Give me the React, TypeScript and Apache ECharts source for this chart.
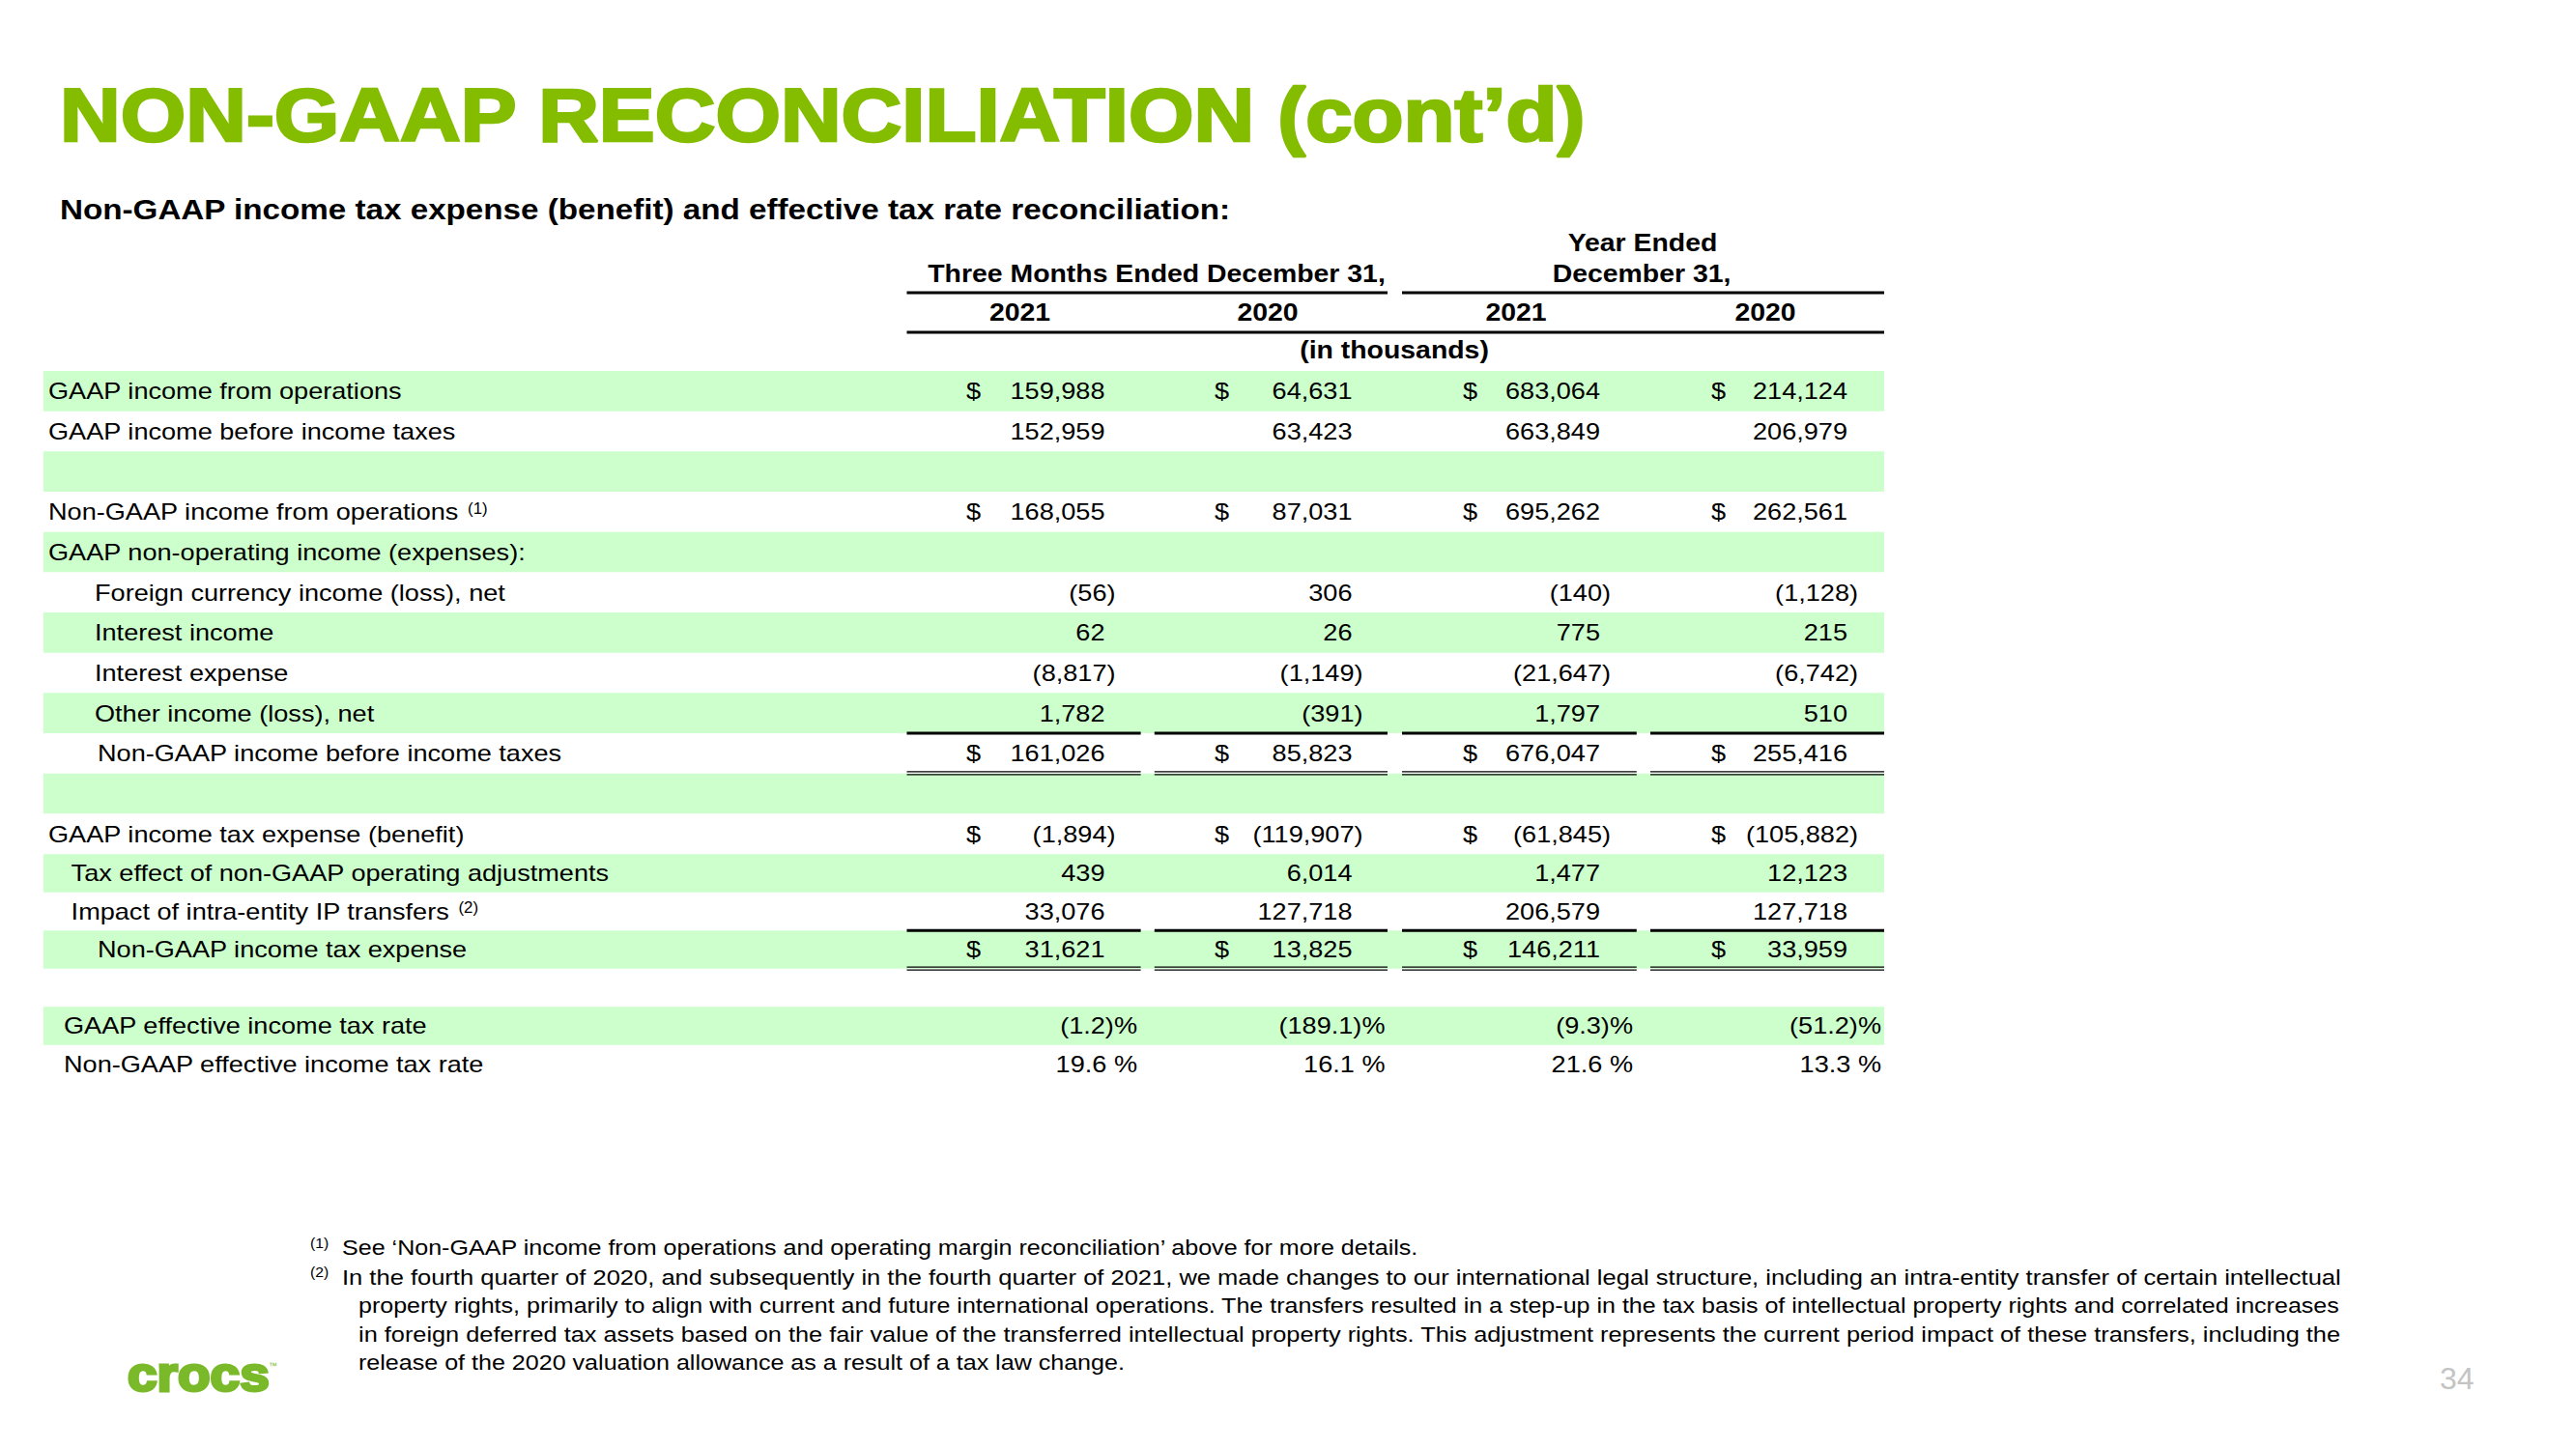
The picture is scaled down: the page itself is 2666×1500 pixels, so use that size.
import React, { useEffect, useRef } from "react";
import * as echarts from "echarts";

// ---------------- data ----------------
const TITLE = "NON-GAAP RECONCILIATION (cont’d)";
const SUBTITLE = "Non-GAAP income tax expense (benefit) and effective tax rate reconciliation:";
const QUARTER_HEADER = "Three Months Ended December 31,";
const YEAR_HEADER = ["Year Ended", "December 31,"];
const COLUMN_YEARS = ["2021", "2020", "2021", "2020"];
const UNIT_LABEL = "(in thousands)";

const ROW_LABELS = [
  "GAAP income from operations",
  "GAAP income before income taxes",
  "",
  "Non-GAAP income from operations",
  "GAAP non-operating income (expenses):",
  "Foreign currency income (loss), net",
  "Interest income",
  "Interest expense",
  "Other income (loss), net",
  "Non-GAAP income before income taxes",
  "",
  "GAAP income tax expense (benefit)",
  "Tax effect of non-GAAP operating adjustments",
  "Impact of intra-entity IP transfers",
  "Non-GAAP income tax expense",
  "",
  "GAAP effective income tax rate",
  "Non-GAAP effective income tax rate",
];
const ROW_NOTES = ["", "", "", "(1)", "", "", "", "", "", "", "", "", "", "(2)", "", "", "", ""];

const Q4_2021 = [159988, 152959, null, 168055, null, -56, 62, -8817, 1782, 161026, null, -1894, 439, 33076, 31621];
const Q4_2020 = [64631, 63423, null, 87031, null, 306, 26, -1149, -391, 85823, null, -119907, 6014, 127718, 13825];
const FY_2021 = [683064, 663849, null, 695262, null, -140, 775, -21647, 1797, 676047, null, -61845, 1477, 206579, 146211];
const FY_2020 = [214124, 206979, null, 262561, null, -1128, 215, -6742, 510, 255416, null, -105882, 12123, 127718, 33959];
const GAAP_RATE = [-1.2, -189.1, -9.3, -51.2];
const NON_GAAP_RATE = [19.6, 16.1, 21.6, 13.3];
const DOLLAR_ROWS = [0, 3, 9, 11, 14];
const SUBTOTAL_ROWS = [9, 14];

const FOOTNOTE_MARKS = ["(1)", "(2)"];
const FOOTNOTE_LINES = [
  "See ‘Non-GAAP income from operations and operating margin reconciliation’ above for more details.",
  "In the fourth quarter of 2020, and subsequently in the fourth quarter of 2021, we made changes to our international legal structure, including an intra-entity transfer of certain intellectual",
  "property rights, primarily to align with current and future international operations. The transfers resulted in a step-up in the tax basis of intellectual property rights and correlated increases",
  "in foreign deferred tax assets based on the fair value of the transferred intellectual property rights. This adjustment represents the current period impact of these transfers, including the",
  "release of the 2020 valuation allowance as a result of a tax law change.",
];
const LOGO_TEXT = "crocs";
const PAGE_NUMBER = "34";

// ---------------- layout / style ----------------
const W = 2666;
const H = 1500;
const FONT = '"Liberation Sans", Arial, sans-serif';
const GREEN = "#84BD00";
const LOGO_GREEN = "#7AB929";
const BAND = "#CCFFCC";
const SX = 1.13;
const BODY = 24;

const BAND_X0 = 45;
const BAND_X1 = 1950;
const COL_SEG = [
  [938.5, 1180.6],
  [1194.8, 1436],
  [1451, 1693.8],
  [1708, 1950],
];
const NUM_RIGHT = [1143.5, 1399.5, 1656, 1912];
const DOLLAR_X = [1000, 1257, 1514, 1771];
const PCT_RIGHT = [1177, 1433.5, 1690, 1947];
const YEAR_X = [1055.5, 1312, 1569, 1827];
const LABEL_X0 = 50;
const LABEL_INDENT = [0, 0, 0, 0, 0, 48, 48, 48, 48, 51, 0, 0, 23.6, 23.6, 51, 0, 16, 16];

const rowTop = (i: number) => (i < 12 ? 384 + 41.67 * i : 884.3 + 39.5 * (i - 12));
const rowH = (i: number) => (i < 11 ? 41.67 : i === 11 ? 884.3 - rowTop(11) : 39.5);
const rowMid = (i: number) => rowTop(i) + rowH(i) / 2;

let measureCtx: CanvasRenderingContext2D | null = null;
function measure(text: string, size: number, weight = "normal") {
  if (!measureCtx) measureCtx = document.createElement("canvas").getContext("2d");
  measureCtx!.font = `${weight} ${size}px "Liberation Sans"`;
  return measureCtx!.measureText(text).width;
}

function txt(
  text: string,
  x: number,
  y: number,
  size: number,
  o: { align?: string; weight?: string; fill?: string; sx?: number; v?: string; stroke?: number } = {}
) {
  const align = o.align || "left";
  const v = o.v || "middle";
  const style: any = {
    text,
    fill: o.fill || "#000",
    font: `${o.weight || "normal"} ${size}px ${FONT}`,
    align,
    textAlign: align,
    verticalAlign: v,
    textVerticalAlign: v,
  };
  if (o.stroke) {
    style.stroke = o.fill || "#000";
    style.lineWidth = o.stroke;
  }
  return {
    type: "text",
    x,
    y,
    scaleX: o.sx == null ? SX : o.sx,
    silent: true,
    style,
  };
}
function rect(x: number, y: number, w: number, h: number, fill: string) {
  return { type: "rect", silent: true, shape: { x, y, width: w, height: h }, style: { fill } };
}

const fmtAmount = (v: number) =>
  v < 0 ? `(${Math.abs(v).toLocaleString("en-US")})` : v.toLocaleString("en-US");
const fmtRate = (v: number) => (v < 0 ? `(${Math.abs(v).toFixed(1)})%` : `${v.toFixed(1)} %`);

function buildElements() {
  const els: any[] = [];

  // title & subtitle
  const titleSx = 1580 / measure(TITLE, 78, "bold");
  els.push(txt(TITLE, 62, 119, 78, { weight: "bold", fill: GREEN, sx: titleSx, stroke: 2.6 }));
  const subSx = 1212 / measure(SUBTITLE, 30, "bold");
  els.push(txt(SUBTITLE, 62, 217, 30, { weight: "bold", sx: subSx }));

  // bands
  ROW_LABELS.forEach((_, i) => {
    if (i % 2 === 0) els.push(rect(BAND_X0, rowTop(i), BAND_X1 - BAND_X0, rowH(i), BAND));
  });

  // header
  const hSize = 25;
  const hSx = 474 / measure(QUARTER_HEADER, hSize, "bold");
  els.push(txt(QUARTER_HEADER, 1197, 284, hSize, { weight: "bold", align: "center", sx: hSx }));
  els.push(txt(YEAR_HEADER[0], 1700, 252, hSize, { weight: "bold", align: "center", sx: hSx }));
  els.push(txt(YEAR_HEADER[1], 1699, 284, hSize, { weight: "bold", align: "center", sx: hSx }));
  els.push(rect(COL_SEG[0][0], 301.5, COL_SEG[1][1] - COL_SEG[0][0], 3, "#000"));
  els.push(rect(COL_SEG[2][0], 301.5, COL_SEG[3][1] - COL_SEG[2][0], 3, "#000"));
  COLUMN_YEARS.forEach((y, c) =>
    els.push(txt(y, YEAR_X[c], 324, hSize, { weight: "bold", align: "center", sx: hSx }))
  );
  els.push(rect(COL_SEG[0][0], 342.5, COL_SEG[3][1] - COL_SEG[0][0], 3, "#000"));
  els.push(txt(UNIT_LABEL, 1443, 363, hSize, { weight: "bold", align: "center", sx: hSx }));

  // labels
  ROW_LABELS.forEach((label, i) => {
    if (!label) return;
    const x = LABEL_X0 + LABEL_INDENT[i];
    const y = rowMid(i);
    els.push(txt(label, x, y, BODY));
    if (ROW_NOTES[i]) {
      const w = measure(label, BODY) * SX;
      els.push(txt(ROW_NOTES[i], x + w + 9, y - 4, 16, { sx: 1.05 }));
    }
  });

  // amounts
  const cols = [Q4_2021, Q4_2020, FY_2021, FY_2020];
  cols.forEach((arr, c) => {
    arr.forEach((v, i) => {
      if (v == null) return;
      const y = rowMid(i);
      const right = v < 0 ? NUM_RIGHT[c] + 11 : NUM_RIGHT[c];
      els.push(txt(fmtAmount(v), right, y, BODY, { align: "right" }));
      if (DOLLAR_ROWS.includes(i)) els.push(txt("$", DOLLAR_X[c], y, BODY));
    });
  });

  // rates
  [GAAP_RATE, NON_GAAP_RATE].forEach((arr, k) => {
    const i = 16 + k;
    arr.forEach((v, c) => els.push(txt(fmtRate(v), PCT_RIGHT[c], rowMid(i), BODY, { align: "right" })));
  });

  // rules
  SUBTOTAL_ROWS.forEach((i) => {
    const yTop = rowTop(i);
    const yBot = rowTop(i) + rowH(i);
    COL_SEG.forEach(([a, b]) => {
      els.push(rect(a, yTop - 1.5, b - a, 3, "#000"));
      els.push(rect(a, yBot - 2.4, b - a, 1.3, "#000"));
      els.push(rect(a, yBot + 0.6, b - a, 1.3, "#000"));
    });
  });

  // footnotes
  const fSize = 22;
  const fSx = 1.14;
  const fY = (k: number) => 1292 + 29.75 * k;
  FOOTNOTE_MARKS.forEach((m, k) => els.push(txt(m, 321, fY(k) - 5, 15, { sx: 1.05 })));
  FOOTNOTE_LINES.forEach((line, k) => {
    const x = k < 2 ? 354 : 371;
    let sx = fSx;
    if (k >= 1 && k <= 3) sx = (2423 - x) / measure(line, fSize);
    els.push(txt(line, x, fY(k), fSize, { sx }));
  });

  // logo & page number
  els.push(txt(LOGO_TEXT, 132, 1422, 50, { weight: "bold", fill: LOGO_GREEN, sx: 1.1, stroke: 3 }));
  els.push(txt("™", 278, 1414, 9, { fill: LOGO_GREEN, sx: 1 }));
  els.push(txt(PAGE_NUMBER, 2525, 1427, 32, { fill: "#C4C4C4", sx: 1 }));

  return els;
}

export default function App() {
  const ref = useRef<HTMLDivElement>(null);
  useEffect(() => {
    if (!ref.current) return;
    const chart = echarts.init(ref.current, null, { renderer: "svg", width: W, height: H });
    chart.setOption({
      animation: false,
      backgroundColor: "#ffffff",
      graphic: { elements: buildElements() },
    });
    return () => chart.dispose();
  }, []);
  return (
    <div
      ref={ref}
      style={{ position: "fixed", left: 0, top: 0, width: W, height: H, background: "#fff" }}
    />
  );
}
